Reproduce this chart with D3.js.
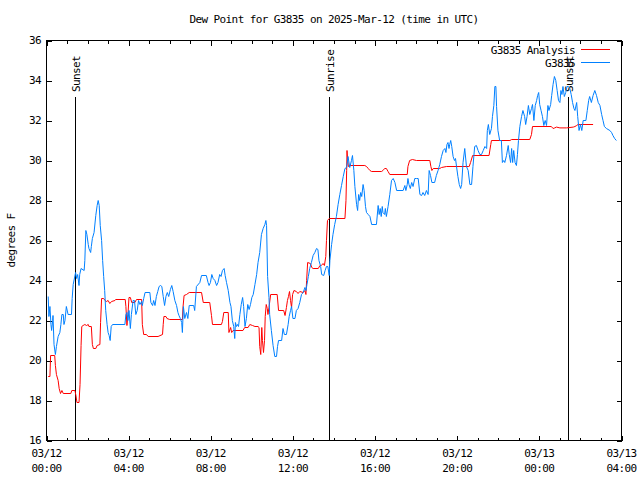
<!DOCTYPE html>
<html><head><meta charset="utf-8">
<script src="https://cdn.jsdelivr.net/npm/d3@7"></script>
<style>
body{margin:0;background:#fff}
svg{display:block}
text{font-family:"DejaVu Sans Mono",monospace;font-size:11px;letter-spacing:-0.6px;fill:#000}
</style></head><body>
<svg id="c" width="640" height="480"></svg>
<script>
const chartTitle = "Dew Point for G3835 on 2025-Mar-12 (time in UTC)";
const yAxisLabel = "degrees F";
const seriesNames = ["G3835 Analysis", "G3835"];
const seriesColors = ["#ff0000", "#0080ff"];
const yTickValues = [16, 18, 20, 22, 24, 26, 28, 30, 32, 34, 36];
const startTime = Date.UTC(2025, 2, 12, 0, 0);
const endTime = Date.UTC(2025, 2, 13, 4, 0);

// minutes after 2025-03-12 00:00 UTC
const eventLabels = ["Sunset", "Sunrise", "Sunset"];
const eventMinutes = [83, 826, 1523];

const blueMinutes = [5,7,10,13,15,18,19,22,26,29,34,39,42,45,49,51,54,58,63,73,75,78,85,88,91,95,97,101,110,112,115,118,122,124,129,131,134,139,144,148,151,154,157,161,164,167,170,173,177,180,183,186,189,193,229,232,235,238,241,245,248,253,257,261,265,269,273,278,280,284,288,302,305,310,313,317,321,325,329,333,337,341,345,349,353,357,362,366,370,375,380,384,387,391,395,397,400,404,409,413,417,419,430,433,438,448,453,467,472,475,479,483,487,492,497,501,506,510,514,519,522,526,531,536,539,543,547,550,552,555,558,561,565,569,573,576,580,584,588,592,596,600,604,609,614,618,623,628,633,638,641,643,646,650,652,657,662,667,672,675,678,687,691,695,701,706,709,713,716,720,726,730,735,740,745,750,755,758,761,765,769,774,779,784,789,793,796,801,804,810,814,818,822,826,828,833,837,842,847,852,857,862,867,872,877,881,886,891,894,898,901,906,909,912,915,918,921,925,928,932,935,940,945,950,964,969,972,975,978,981,983,988,990,993,998,1003,1008,1013,1018,1023,1042,1047,1050,1054,1056,1059,1063,1067,1071,1076,1081,1086,1091,1096,1100,1105,1110,1115,1118,1122,1126,1134,1139,1144,1149,1154,1159,1164,1167,1170,1173,1176,1178,1181,1184,1188,1192,1195,1198,1202,1206,1210,1213,1217,1222,1227,1232,1237,1242,1246,1251,1256,1261,1266,1271,1276,1281,1286,1288,1291,1295,1300,1303,1307,1310,1313,1315,1319,1324,1329,1332,1336,1339,1344,1349,1352,1356,1359,1362,1365,1369,1373,1376,1379,1383,1388,1392,1397,1400,1404,1408,1412,1417,1420,1424,1428,1432,1435,1438,1441,1445,1449,1453,1457,1461,1465,1468,1473,1476,1480,1484,1488,1492,1496,1500,1503,1506,1509,1513,1517,1521,1525,1529,1533,1537,1541,1544,1549,1552,1556,1560,1564,1568,1576,1580,1584,1587,1592,1597,1602,1607,1612,1617,1622,1626,1630,1636,1646,1651,1655,1660,1665];
const blueValues = [23.2,22.2,22.7,21.8,21.5,22.0,22.25,20.8,20.3,20.7,21.2,21.4,21.8,22.3,22.3,21.8,22.0,22.7,22.3,22.3,23.1,23.8,24.4,24.1,24.3,23.75,24.3,24.6,24.5,25.0,26.5,26.3,25.8,25.6,25.4,25.7,26.1,26.4,27.25,27.75,28.0,27.75,26.75,26.0,25.0,24.2,23.5,22.5,21.8,21.4,21.25,21.0,21.7,21.8,21.8,22.3,22.4,22.0,22.5,21.6,22.3,23.0,23.0,22.3,22.5,23.0,22.8,22.95,22.75,23.1,23.4,23.4,22.9,22.75,23.0,22.75,23.2,23.45,23.7,23.75,23.7,23.2,22.75,23.2,23.4,23.2,23.55,23.75,23.45,23.0,22.75,22.4,22.25,22.1,21.9,21.4,22.7,22.1,22.4,22.1,22.75,22.75,22.75,22.5,23.7,23.9,24.25,24.25,23.9,23.75,23.9,24.3,24.1,24.0,23.75,23.9,24.3,24.2,24.5,24.6,24.25,23.9,23.5,22.9,22.7,22.0,21.7,21.1,21.9,21.7,21.8,21.7,22.3,22.8,23.15,22.7,21.7,22.1,22.8,22.55,22.8,23.15,23.3,23.8,24.3,24.9,25.4,26.3,26.6,26.8,27.0,26.75,24.2,23.15,22.3,21.5,20.75,20.2,20.2,20.7,21.0,21.0,21.6,21.3,21.3,21.8,22.2,22.5,22.7,22.1,22.1,22.5,22.6,22.9,23.3,23.4,23.65,23.5,23.8,24.2,24.6,24.9,25.25,25.4,25.6,25.55,25.0,24.7,24.3,24.25,24.5,24.7,24.7,24.25,25.0,25.8,26.3,26.8,27.2,27.8,28.3,28.75,29.2,29.6,29.65,30.2,29.65,30.0,30.25,29.5,28.7,27.8,27.5,28.3,28.0,28.4,28.2,28.8,28.5,27.7,27.4,27.3,27.2,26.8,26.8,27.75,27.3,27.6,27.2,27.7,27.4,27.3,27.6,27.2,27.7,28.3,29.0,29.1,28.9,28.5,28.5,28.75,28.5,28.8,29.1,28.8,28.6,28.9,28.7,29.1,29.1,29.1,28.3,28.25,28.4,28.25,28.5,28.3,29.5,29.25,28.9,28.9,29.25,29.5,29.8,30.2,30.5,30.6,30.4,30.8,30.9,30.6,30.8,31.0,30.7,30.2,30.0,30.1,29.7,29.2,28.8,28.6,28.8,29.9,30.6,29.7,29.5,28.8,28.8,29.7,30.7,30.75,30.5,30.3,30.3,30.5,30.7,30.6,31.5,31.8,31.3,31.6,32.2,32.75,33.7,33.7,32.7,31.5,31.0,31.0,29.9,30.0,29.9,30.25,30.75,30.3,29.9,30.6,29.9,30.5,29.9,29.75,30.3,31.0,31.7,32.2,32.5,32.2,31.8,32.2,32.75,32.3,32.6,32.8,32.0,32.75,33.0,33.25,33.4,32.8,32.5,32.2,31.75,32.0,31.75,32.75,32.5,32.8,33.25,33.8,34.2,34.0,33.5,33.0,32.9,33.5,33.3,33.7,33.2,33.4,33.7,33.7,33.6,33.3,32.9,32.6,32.5,32.9,32.2,31.5,31.8,31.5,32.0,32.0,32.5,33.0,33.2,32.9,33.25,33.5,33.25,32.9,32.75,32.3,32.0,31.7,31.6,31.5,31.4,31.25,31.1,31.0];

const redMinutes = [5,10,12,24,26,29,34,37,41,45,49,71,74,83,86,89,95,98,101,103,107,112,117,122,124,131,134,137,144,148,156,158,161,167,171,175,180,185,190,200,202,230,232,235,238,241,245,249,258,263,278,280,284,292,297,326,339,341,343,349,352,360,397,399,402,409,417,453,458,477,482,485,511,514,518,531,533,538,541,545,574,579,589,594,602,609,618,621,623,626,629,631,634,637,639,642,645,647,650,655,674,678,693,697,701,704,707,710,713,716,719,723,730,735,740,750,755,758,760,763,771,775,779,794,799,803,808,812,816,818,821,826,872,875,877,878,880,882,886,930,935,940,945,950,979,983,988,993,998,1003,1054,1056,1061,1069,1081,1120,1123,1126,1130,1149,1154,1169,1232,1235,1239,1245,1293,1298,1300,1354,1359,1412,1417,1420,1475,1480,1485,1490,1500,1519,1539,1544,1549,1553,1597];
const redValues = [19.2,19.2,20.25,20.25,19.75,19.3,19.0,18.6,18.35,18.5,18.35,18.35,18.5,18.5,18.25,17.9,17.9,18.8,20.75,21.7,21.75,21.8,21.75,21.8,21.7,21.7,20.8,20.6,20.6,20.75,20.8,21.9,23.1,23.1,23.0,22.95,23.0,22.85,22.95,23.0,23.05,23.05,22.7,21.75,22.3,23.15,23.15,22.9,22.9,23.05,23.05,21.8,21.3,21.3,21.2,21.2,21.3,21.8,22.2,22.2,22.1,22.05,22.05,22.7,23.25,23.3,23.4,23.4,22.9,22.9,22.25,21.8,21.8,21.95,22.4,22.4,21.4,21.65,21.4,21.5,21.5,21.65,21.65,21.8,21.75,21.7,21.7,21.65,20.7,20.3,21.65,21.0,20.4,21.0,22.2,22.8,22.6,22.3,22.65,23.3,23.3,22.5,22.5,22.25,22.65,23.0,23.2,23.45,23.0,22.65,23.3,23.5,23.45,23.35,23.45,23.4,23.5,23.3,24.0,24.9,24.85,24.65,24.6,24.6,24.75,24.75,24.85,24.75,25.2,26.0,27.0,27.1,27.1,28.0,29.5,30.5,30.0,29.7,29.75,29.75,29.7,29.6,29.5,29.45,29.45,29.5,29.6,29.6,29.45,29.3,29.3,29.7,30.0,30.05,30.0,30.0,29.7,29.5,29.6,29.6,29.65,29.7,29.7,29.7,29.9,30.25,30.25,30.8,31.0,31.0,31.05,31.05,31.3,31.7,31.7,31.6,31.63,31.67,31.63,31.63,31.67,31.7,31.75,31.8,31.8];

const svg = d3.select("#c");
const L = 46.5, R = 621.5, T = 40.5, B = 440.5;
const minToDate = m => new Date(startTime + m * 60000);
const x = d3.scaleUtc().domain([new Date(startTime), new Date(endTime)]).range([L, R]);
const y = d3.scaleLinear().domain([16, 36]).range([B, T]);

// title
svg.append("text").attr("x", (L + R) / 2).attr("y", 19).attr("text-anchor", "middle")
  .attr("dominant-baseline", "central").text(chartTitle);

// y axis label
svg.append("text").attr("transform", `translate(11,${(T + B) / 2}) rotate(-90)`)
  .attr("text-anchor", "middle").attr("dominant-baseline", "central").text(yAxisLabel);

const crisp = g => g.attr("shape-rendering", "crispEdges");

// event lines
eventMinutes.forEach((m, i) => {
  const ex = Math.round(x(minToDate(m))) + 0.5;
  svg.append("line").attr("x1", ex).attr("x2", ex).attr("y1", 97).attr("y2", B)
    .attr("stroke", "#000").attr("stroke-width", 1).call(crisp);
  svg.append("text").attr("transform", `translate(${ex + 1},92) rotate(-90)`)
    .attr("text-anchor", "start").attr("dominant-baseline", "central").text(eventLabels[i]);
});

// axes ticks
const hourTicks = d3.utcHour.every(1);
const majorTicks = d3.utcHour.every(4);
const gB = svg.append("g").attr("transform", `translate(0,${B})`);
gB.call(d3.axisBottom(x).ticks(hourTicks).tickSize(-3).tickFormat(""));
const gB2 = svg.append("g").attr("transform", `translate(0,${B})`);
gB2.call(d3.axisBottom(x).ticks(majorTicks).tickSize(-5).tickFormat(""));
const gT = svg.append("g").attr("transform", `translate(0,${T})`);
gT.call(d3.axisTop(x).ticks(hourTicks).tickSize(-3).tickFormat(""));
const gT2 = svg.append("g").attr("transform", `translate(0,${T})`);
gT2.call(d3.axisTop(x).ticks(majorTicks).tickSize(-5).tickFormat(""));
const gL = svg.append("g").attr("transform", `translate(${L},0)`);
gL.call(d3.axisLeft(y).tickValues(yTickValues).tickSize(-5).tickFormat(""));
const gR = svg.append("g").attr("transform", `translate(${R},0)`);
gR.call(d3.axisRight(y).tickValues(yTickValues).tickSize(-5).tickFormat(""));
svg.selectAll(".domain").remove();
svg.selectAll(".tick line").attr("stroke", "#000").call(crisp);

// frame
svg.append("rect").attr("x", L).attr("y", T).attr("width", R - L).attr("height", B - T)
  .attr("fill", "none").attr("stroke", "#000").call(crisp);

// x labels
const fmtD = d3.utcFormat("%m/%d"), fmtT = d3.utcFormat("%H:%M");
x.ticks(majorTicks).forEach(d => {
  svg.append("text").attr("x", x(d)).attr("y", 453).attr("text-anchor", "middle")
    .attr("dominant-baseline", "central").text(fmtD(d));
  svg.append("text").attr("x", x(d)).attr("y", 468).attr("text-anchor", "middle")
    .attr("dominant-baseline", "central").text(fmtT(d));
});
// y labels
yTickValues.forEach(v => {
  svg.append("text").attr("x", 41).attr("y", y(v)).attr("text-anchor", "end")
    .attr("dominant-baseline", "central").text(v);
});

// series
const line = d3.line().x(d => x(minToDate(d[0]))).y(d => y(d[1]));
const redData = redMinutes.map((m, i) => [m, redValues[i]]);
const blueData = blueMinutes.map((m, i) => [m, blueValues[i]]);
svg.append("path").datum(redData).attr("d", line).attr("fill", "none")
  .attr("stroke", seriesColors[0]).attr("stroke-width", 1);
svg.append("path").datum(blueData).attr("d", line).attr("fill", "none")
  .attr("stroke", seriesColors[1]).attr("stroke-width", 1);

// legend
[50, 63].forEach((ly, i) => {
  svg.append("text").attr("x", 575).attr("y", ly).attr("text-anchor", "end")
    .attr("dominant-baseline", "central").text(seriesNames[i]);
  svg.append("line").attr("x1", 581).attr("x2", 610).attr("y1", ly - 0.5).attr("y2", ly - 0.5)
    .attr("stroke", seriesColors[i]).attr("stroke-width", 1).call(crisp);
});
</script>
</body></html>
